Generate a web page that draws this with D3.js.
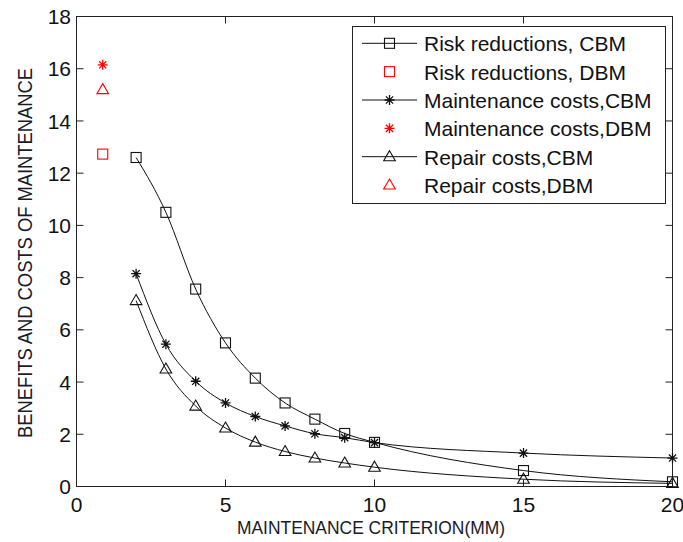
<!DOCTYPE html>
<html>
<head>
<meta charset="utf-8">
<script src="https://cdn.jsdelivr.net/npm/d3@7"></script>
<style>
  html, body { margin: 0; padding: 0; background: #fff; }
  svg { display: block; font-family: "Liberation Sans", Arial, sans-serif; }
</style>
</head>
<body>
<svg id="chart" width="683" height="542"></svg>
<script>
// ---- data ----
const criterion = [2, 3, 4, 5, 6, 7, 8, 9, 10, 15, 20];
const riskCBM   = [12.6, 10.5, 7.56, 5.5, 4.15, 3.2, 2.58, 2.03, 1.69, 0.61, 0.18];
const maintCBM  = [8.15, 5.45, 4.03, 3.2, 2.68, 2.32, 2.02, 1.87, 1.68, 1.28, 1.09];
const repairCBM = [7.12, 4.5, 3.08, 2.24, 1.7, 1.34, 1.09, 0.9, 0.74, 0.28, 0.12];
const dbmX = 0.88;
const riskDBM = 12.73;
const maintDBM = 16.15;
const repairDBM = 15.2;
const xTicks = [0, 5, 10, 15, 20];
const yTicks = [0, 2, 4, 6, 8, 10, 12, 14, 16, 18];
const legendLabels = ["Risk reductions, CBM", "Risk reductions, DBM", "Maintenance costs,CBM",
                      "Maintenance costs,DBM", "Repair costs,CBM", "Repair costs,DBM"];

// ---- layout ----
const svg = d3.select("#chart");
const L = 76.5, T = 16.5, W = 596, H = 470;
const x = d3.scaleLinear().domain([0, 20]).range([L, L + W]);
const y = d3.scaleLinear().domain([0, 18]).range([T + H, T]);
const fs = 21;

// ticks inward on all four sides
const tickLen = 7;
const axisG = svg.append("g").attr("stroke", "#222").attr("stroke-width", 1);
xTicks.forEach(v => {
  axisG.append("line").attr("x1", x(v)).attr("x2", x(v)).attr("y1", T + H).attr("y2", T + H - tickLen);
  axisG.append("line").attr("x1", x(v)).attr("x2", x(v)).attr("y1", T).attr("y2", T + tickLen);
});
yTicks.forEach(v => {
  axisG.append("line").attr("x1", L).attr("x2", L + tickLen).attr("y1", y(v)).attr("y2", y(v));
  axisG.append("line").attr("x1", L + W).attr("x2", L + W - tickLen).attr("y1", y(v)).attr("y2", y(v));
});
axisG.append("rect").attr("x", L).attr("y", T).attr("width", W).attr("height", H).attr("fill", "none");

// tick labels
svg.append("g").selectAll("text").data(xTicks).join("text")
  .attr("x", d => x(d)).attr("y", 512).attr("text-anchor", "middle")
  .attr("font-size", fs).attr("fill", "#111").text(d => d);
svg.append("g").selectAll("text").data(yTicks).join("text")
  .attr("x", 71).attr("y", d => y(d)).attr("dy", "0.36em").attr("text-anchor", "end")
  .attr("font-size", fs).attr("fill", "#111").text(d => d);

// axis labels
svg.append("text").attr("x", 371).attr("y", 534).attr("text-anchor", "middle")
  .attr("font-size", 18.5).attr("fill", "#1a1a2a")
  .attr("textLength", 268).attr("lengthAdjust", "spacingAndGlyphs")
  .text("MAINTENANCE CRITERION(MM)");
svg.append("text").attr("transform", "translate(32,253) rotate(-90)").attr("text-anchor", "middle")
  .attr("font-size", 20).attr("fill", "#1a1a2a")
  .attr("textLength", 370).attr("lengthAdjust", "spacingAndGlyphs")
  .text("BENEFITS AND COSTS OF MAINTENANCE");

// marker drawers
function drawMarker(g, type, cx, cy, color) {
  if (type === "square") {
    g.append("rect").attr("x", cx - 5).attr("y", cy - 5).attr("width", 10).attr("height", 10)
      .attr("fill", "none").attr("stroke", color).attr("stroke-width", 1.1);
  } else if (type === "star") {
    const r = 5, d = 3.6;
    const p = `M${cx - r},${cy}L${cx + r},${cy}M${cx},${cy - r}L${cx},${cy + r}` +
              `M${cx - d},${cy - d}L${cx + d},${cy + d}M${cx - d},${cy + d}L${cx + d},${cy - d}`;
    g.append("path").attr("d", p).attr("stroke", color).attr("stroke-width", 1.3).attr("fill", "none");
  } else if (type === "triangle") {
    const p = `M${cx},${cy - 6}L${cx + 5.8},${cy + 4}L${cx - 5.8},${cy + 4}Z`;
    g.append("path").attr("d", p).attr("fill", "none").attr("stroke", color).attr("stroke-width", 1.1);
  }
}

const line = d3.line().x(d => x(d[0])).y(d => y(d[1])).curve(d3.curveMonotoneX);
const series = [
  { vals: riskCBM, type: "square" },
  { vals: maintCBM, type: "star" },
  { vals: repairCBM, type: "triangle" }
];
const plotG = svg.append("g");
series.forEach(s => {
  const pts = criterion.map((c, i) => [c, s.vals[i]]);
  plotG.append("path").attr("d", line(pts)).attr("fill", "none").attr("stroke", "#111").attr("stroke-width", 1);
  pts.forEach(p => drawMarker(plotG, s.type, x(p[0]), y(p[1]), "#111"));
});
drawMarker(plotG, "square", x(dbmX), y(riskDBM), "#ff0000");
drawMarker(plotG, "star", x(dbmX), y(maintDBM), "#ff0000");
drawMarker(plotG, "triangle", x(dbmX), y(repairDBM), "#ff0000");

// legend
const lg = svg.append("g");
lg.append("rect").attr("x", 352.5).attr("y", 26.5).attr("width", 313).attr("height", 177)
  .attr("fill", "#fff").attr("stroke", "#222").attr("stroke-width", 1);
const legendTypes = ["square", "square", "star", "star", "triangle", "triangle"];
legendLabels.forEach((lab, i) => {
  const cy = 43.3 + i * 28.35;
  const isCBM = i % 2 === 0;
  const color = isCBM ? "#111" : "#ff0000";
  if (isCBM) {
    lg.append("line").attr("x1", 362).attr("x2", 417).attr("y1", cy).attr("y2", cy)
      .attr("stroke", "#111").attr("stroke-width", 1);
  }
  drawMarker(lg, legendTypes[i], 389.5, cy, color);
  lg.append("text").attr("x", 424).attr("y", cy + 8).attr("font-size", fs).attr("fill", "#111").text(lab);
});
</script>
</body>
</html>
